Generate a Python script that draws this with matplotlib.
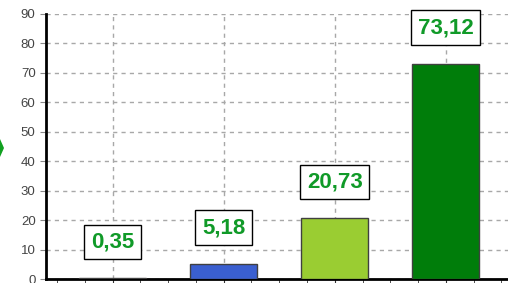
import matplotlib.pyplot as plt
from matplotlib.patches import Polygon
from matplotlib.ticker import MultipleLocator

# values
categories = ["A", "B", "C", "D"]
values = [0.35, 5.18, 20.73, 73.12]
labels = ["0,35", "5,18", "20,73", "73,12"]
colors = ["#d03020", "#3a5fd0", "#9acd32", "#007d0a"]
yticks = [0, 10, 20, 30, 40, 50, 60, 70, 80, 90]

W, H = 508, 283
fig = plt.figure(figsize=(W / 100, H / 100), dpi=100)
ax = fig.add_axes([46 / W, 4 / H, (W - 46) / W, 265 / H])

x = list(range(len(categories)))
ax.bar(x, values, width=0.6, color=colors, edgecolor="#404040", linewidth=1, zorder=3)

for xi, v, lab in zip(x, values, labels):
    ax.annotate(lab, (xi, v), xytext=(0, 26), textcoords="offset points",
                ha="center", va="center", fontsize=16, fontweight="bold",
                family="Liberation Sans", color="#109a28", zorder=5,
                bbox=dict(boxstyle="square,pad=0.3", fc="white", ec="black", lw=1))

ax.set_xlim(-0.6, 3.56)
ax.set_ylim(0, 90)
ax.set_yticks(yticks)
ax.set_xticks(x)
ax.set_xticklabels([])
ax.xaxis.set_minor_locator(MultipleLocator(0.25))
ax.tick_params(axis="x", which="both", length=3, color="#333333")
ax.tick_params(axis="y", length=4, color="#888888", labelsize=9.5, labelcolor="#444444")
for t in ax.get_yticklabels():
    t.set_family("Liberation Sans")

ax.grid(True, color="#a8a8a8", linestyle=(0, (3, 3)), linewidth=1, zorder=0)
ax.spines["right"].set_visible(False)
ax.spines["top"].set_visible(False)
ax.spines["left"].set_linewidth(2)
ax.spines["bottom"].set_linewidth(2)

# small green arrow tip at the left edge
fig.patches.append(Polygon([(0, 1 - 139 / H), (4 / W, 1 - 148 / H), (0, 1 - 157 / H)],
                           closed=True, transform=fig.transFigure,
                           fc="#10a020", ec="none"))

fig.savefig("out.png", dpi=100)
